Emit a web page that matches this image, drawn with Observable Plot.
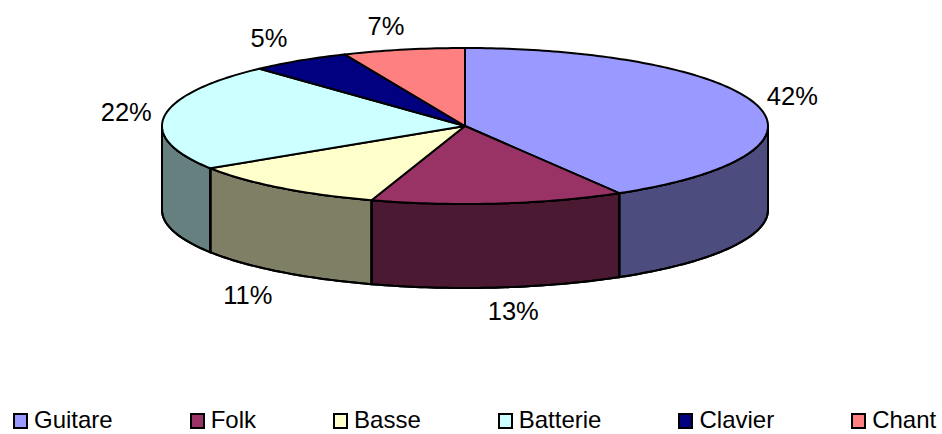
<!DOCTYPE html>
<html>
<head>
<meta charset="utf-8">
<script src="https://cdn.jsdelivr.net/npm/d3@7"></script>
<script src="https://cdn.jsdelivr.net/npm/@observablehq/plot@0.6"></script>
<style>
  html, body { margin: 0; padding: 0; background: #fff; }
  body { width: 942px; height: 434px; overflow: hidden; font-family: "Liberation Sans", Arial, sans-serif; }
  #legend { display: flex; gap: 77px; padding-left: 13px; height: 22px; align-items: center; margin-top: 15px; font-size: 24px; color: #000; white-space: nowrap; }
  #legend .item { display: flex; align-items: center; gap: 6px; height: 20px; }
  #legend .sw { width: 11px; height: 12px; border: 2.5px solid #000; display: block; position: relative; top: 1px; }
  #legend .name { display: block; height: 20px; line-height: 20px; }
  svg { display: block; }
</style>
</head>
<body>
<div id="chart"></div>
<div id="legend"></div>
<script>
// Data
const categories = ["Guitare", "Folk", "Basse", "Batterie", "Clavier", "Chant"];
const shares = [41.5, 13.49, 10.9, 22.25, 5.36, 6.5];
const percentLabels = ["42%", "13%", "11%", "22%", "5%", "7%"];
const colors = ["#9999FF", "#993366", "#FFFFCC", "#CCFFFF", "#000080", "#FF8080"];

// Layout
const W = 942, H = 394;
const cx = 464.5, cy = 125.5, rx = 303, ry = 78, depthPx = 84;
const depth = depthPx / ry;
const labelOffsets = [[-3.5, -1], [10.5, -3], [-8, 3], [1.5, 0], [-9, 1], [-9.5, 4]];
const step = 1; // degrees between outline samples

// Angles clockwise from the top, derived from the shares
const total = d3.sum(shares);
let acc = 0;
const slices = categories.map((name, i) => {
  const a0 = acc / total * 360;
  acc += shares[i];
  return {name, a0, a1: acc / total * 360, label: percentLabels[i], i};
});
const rad = a => a * Math.PI / 180;
const px = a => Math.sin(rad(a));
const py = a => Math.cos(rad(a));
const arc = (a0, a1) => {
  const out = [];
  for (let a = a0; a < a1; a += step) out.push(a);
  out.push(a1);
  return out;
};

// Top faces
const topFaces = slices.flatMap(s => {
  const pts = [{name: s.name, x: 0, y: 0}];
  for (const a of arc(s.a0, s.a1)) pts.push({name: s.name, x: px(a), y: py(a)});
  pts.push({name: s.name, x: 0, y: 0});
  return pts;
});

// Visible wall: the front half of the rim
const wallFaces = slices.flatMap(s => {
  const a0 = Math.max(s.a0, 90), a1 = Math.min(s.a1, 270);
  if (a1 <= a0) return [];
  const angles = arc(a0, a1);
  const pts = angles.map(a => ({name: s.name, x: px(a), y: py(a)}));
  for (const a of angles.slice().reverse()) pts.push({name: s.name, x: px(a), y: py(a) - depth});
  pts.push(pts[0]);
  return pts;
});

// Labels sit outside the rim at each slice's mid-angle
const labelMarks = slices.map(s => {
  const mid = (s.a0 + s.a1) / 2;
  const lx = 1.132 * px(mid);
  const ly = 1.346 * py(mid) - (py(mid) < 0 ? depth : 0);
  return Plot.text([s], {
    x: () => lx, y: () => ly, text: "label",
    dx: labelOffsets[s.i][0], dy: labelOffsets[s.i][1],
    fontSize: 25.5, fill: "#000", lineAnchor: "middle", textAnchor: "middle"
  });
});

const outline = {stroke: "#000", strokeWidth: 2, strokeLinejoin: "round", z: "name"};

const chart = Plot.plot({
  width: W, height: H,
  margin: 0,
  style: {background: "#fff", fontFamily: '"Liberation Sans", Arial, sans-serif'},
  x: {axis: null, domain: [-cx / rx, (W - cx) / rx], range: [0, W]},
  y: {axis: null, domain: [(cy - H) / ry, cy / ry], range: [H, 0]},
  color: {domain: categories, range: colors},
  marks: [
    Plot.line(wallFaces, {x: "x", y: "y", fill: "name", ...outline}),
    Plot.line(wallFaces, {x: "x", y: "y", fill: "#000", fillOpacity: 0.5, ...outline}),
    Plot.line(topFaces, {x: "x", y: "y", fill: "name", ...outline}),
    ...labelMarks
  ]
});
document.getElementById("chart").appendChild(chart);

const legend = d3.select("#legend");
categories.forEach((name, i) => {
  const item = legend.append("div").attr("class", "item");
  item.append("span").attr("class", "sw").style("background", colors[i]);
  item.append("span").attr("class", "name").text(name);
});
</script>
</body>
</html>
